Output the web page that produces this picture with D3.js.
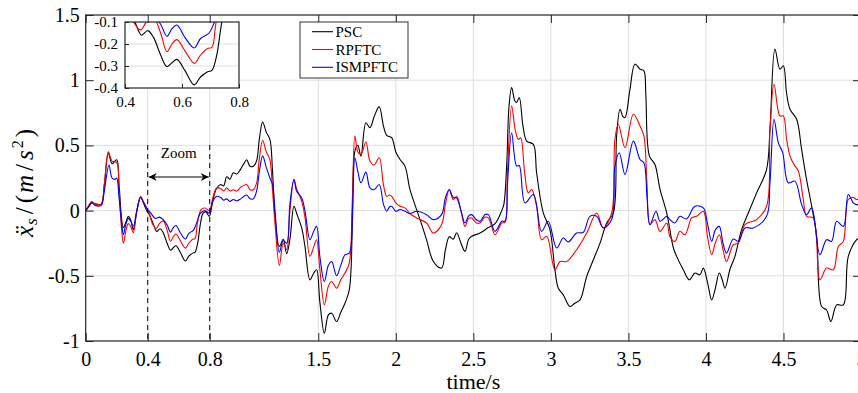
<!DOCTYPE html>
<html>
<head>
<meta charset="utf-8">
<script src="https://cdn.jsdelivr.net/npm/d3@7"></script>
<style>
html,body{margin:0;padding:0;background:#fff;}
svg{display:block;}
</style>
</head>
<body>
<svg id="chart" width="858" height="393"></svg>
<script>
// ---------------- data ----------------
const seriesNames = ["PSC", "RPFTC", "ISMPFTC"];
const seriesColors = ["#000000", "#ff0000", "#0000ff"];

const xTicks = [0, 0.4, 0.8, 1.5, 2, 2.5, 3, 3.5, 4, 4.5, 5];
const xTickLabels = ["0", "0.4", "0.8", "1.5", "2", "2.5", "3", "3.5", "4", "4.5", "5"];
const yTicks = [-1, -0.5, 0, 0.5, 1, 1.5];
const yTickLabels = ["-1", "-0.5", "0", "0.5", "1", "1.5"];

const insetXTicks = [0.4, 0.6, 0.8];
const insetXTickLabels = ["0.4", "0.6", "0.8"];
const insetYTicks = [-0.4, -0.3, -0.2, -0.1];
const insetYTickLabels = ["-0.4", "-0.3", "-0.2", "-0.1"];

const zoomRange = [0.4, 0.8];

// [time (s), acceleration (m/s^2)]
const psc = [[0,0],[0.02,0.03],[0.04,0.06],[0.07,0.05],[0.1,0.05],[0.12,0.2],[0.146,0.44],[0.17,0.36],[0.2,0.39],[0.215,0.2],[0.243,-0.13],[0.262,-0.08],[0.275,-0.044],[0.29,-0.07],[0.307,-0.146],[0.33,0.0],[0.354,0.105],[0.375,0.05],[0.393,0.0],[0.41,-0.03],[0.435,-0.1],[0.458,-0.16],[0.48,-0.139],[0.5,-0.17],[0.525,-0.25],[0.547,-0.303],[0.565,-0.285],[0.582,-0.27],[0.61,-0.32],[0.643,-0.386],[0.665,-0.35],[0.69,-0.326],[0.705,-0.32],[0.722,-0.25],[0.74,-0.1],[0.757,-0.02],[0.775,-0.01],[0.797,-0.044],[0.82,0.08],[0.844,0.17],[0.87,0.2],[0.89,0.19],[0.909,0.26],[0.93,0.24],[0.952,0.29],[0.975,0.28],[1.0,0.32],[1.02,0.36],[1.038,0.39],[1.06,0.34],[1.081,0.34],[1.102,0.38],[1.12,0.55],[1.141,0.68],[1.165,0.6],[1.188,0.546],[1.205,0.3],[1.221,-0.05],[1.249,-0.275],[1.274,-0.22],[1.296,-0.33],[1.317,-0.22],[1.343,0.033],[1.36,-0.02],[1.393,-0.133],[1.414,-0.274],[1.446,-0.531],[1.47,-0.48],[1.489,-0.454],[1.51,-0.7],[1.539,-0.941],[1.565,-0.8],[1.586,-0.787],[1.618,-0.851],[1.645,-0.78],[1.672,-0.71],[1.7,-0.608],[1.72,-0.1],[1.736,0.456],[1.755,0.5],[1.775,0.418],[1.807,0.674],[1.833,0.636],[1.86,0.72],[1.893,0.797],[1.92,0.65],[1.941,0.577],[1.973,0.559],[2.0,0.45],[2.027,0.392],[2.059,0.341],[2.091,0.162],[2.134,0.008],[2.165,-0.1],[2.198,-0.223],[2.242,-0.39],[2.295,-0.441],[2.32,-0.3],[2.345,-0.2],[2.37,-0.22],[2.392,-0.17],[2.42,-0.25],[2.446,-0.313],[2.47,-0.22],[2.489,-0.197],[2.543,-0.172],[2.597,-0.13],[2.64,-0.1],[2.683,0.0],[2.697,0.05],[2.715,0.35],[2.73,0.8],[2.747,0.944],[2.768,0.84],[2.779,0.83],[2.796,0.867],[2.82,0.65],[2.844,0.533],[2.887,0.508],[2.908,0.29],[2.951,-0.018],[2.994,-0.146],[3.026,-0.454],[3.048,-0.595],[3.08,-0.646],[3.123,-0.736],[3.155,-0.71],[3.188,-0.685],[3.231,-0.505],[3.274,-0.377],[3.317,-0.249],[3.36,-0.095],[3.403,-0.018],[3.424,0.572],[3.446,0.777],[3.465,0.72],[3.478,0.713],[3.51,0.93],[3.542,1.123],[3.575,1.085],[3.6,1.072],[3.612,0.9],[3.635,0.42],[3.671,0.354],[3.704,0.162],[3.747,-0.018],[3.79,-0.287],[3.811,-0.351],[3.854,-0.454],[3.893,-0.531],[3.929,-0.479],[3.961,-0.492],[3.983,-0.441],[4.01,-0.55],[4.037,-0.685],[4.06,-0.6],[4.086,-0.479],[4.105,-0.53],[4.123,-0.595],[4.155,-0.45],[4.187,-0.351],[4.23,-0.146],[4.273,-0.018],[4.327,0.136],[4.391,0.315],[4.413,0.623],[4.445,1.238],[4.477,1.085],[4.499,1.11],[4.52,0.9],[4.542,0.777],[4.585,0.7],[4.617,0.469],[4.649,0.238],[4.682,0.033],[4.714,-0.197],[4.746,-0.736],[4.778,-0.762],[4.806,-0.851],[4.843,-0.723],[4.886,-0.723],[4.918,-0.351],[4.972,-0.223],[5.0,-0.2]];

const rpftc = [[0,0],[0.02,0.04],[0.038,0.07],[0.06,0.05],[0.1,0.05],[0.12,0.2],[0.146,0.45],[0.17,0.38],[0.2,0.37],[0.215,0.15],[0.232,-0.15],[0.243,-0.25],[0.26,-0.15],[0.275,-0.1],[0.29,-0.12],[0.307,-0.17],[0.33,0.0],[0.354,0.105],[0.375,0.06],[0.393,0.02],[0.41,-0.02],[0.43,-0.1],[0.455,-0.136],[0.475,-0.1],[0.5,-0.08],[0.525,-0.15],[0.547,-0.235],[0.565,-0.2],[0.582,-0.18],[0.61,-0.23],[0.643,-0.288],[0.665,-0.25],[0.69,-0.22],[0.705,-0.215],[0.72,-0.1],[0.745,0.01],[0.77,0.02],[0.797,0.0],[0.82,0.1],[0.844,0.174],[0.87,0.17],[0.89,0.15],[0.909,0.174],[0.93,0.15],[0.952,0.16],[0.975,0.15],[1.0,0.18],[1.038,0.2],[1.06,0.16],[1.081,0.16],[1.102,0.21],[1.12,0.4],[1.141,0.54],[1.165,0.45],[1.188,0.39],[1.205,0.15],[1.221,-0.1],[1.249,-0.42],[1.274,-0.25],[1.296,-0.3],[1.317,0.0],[1.343,0.238],[1.36,0.17],[1.393,0.072],[1.414,-0.05],[1.446,-0.351],[1.47,-0.28],[1.489,-0.223],[1.51,-0.45],[1.539,-0.723],[1.565,-0.58],[1.586,-0.544],[1.618,-0.595],[1.645,-0.53],[1.672,-0.479],[1.7,-0.4],[1.72,0.1],[1.736,0.572],[1.755,0.45],[1.775,0.431],[1.807,0.526],[1.833,0.38],[1.86,0.35],[1.893,0.405],[1.92,0.2],[1.941,0.11],[1.96,0.12],[1.973,0.11],[2.0,0.06],[2.027,0.033],[2.059,0.021],[2.091,-0.023],[2.134,-0.056],[2.198,-0.095],[2.242,-0.172],[2.295,-0.108],[2.32,0.05],[2.345,0.162],[2.37,0.085],[2.392,0.11],[2.42,0.0],[2.446,-0.121],[2.47,-0.06],[2.489,-0.056],[2.52,-0.095],[2.543,-0.095],[2.575,-0.05],[2.597,-0.056],[2.64,-0.185],[2.683,-0.095],[2.704,-0.09],[2.72,0.3],[2.747,0.803],[2.77,0.62],[2.79,0.546],[2.805,0.559],[2.83,0.3],[2.854,0.136],[2.876,0.162],[2.908,0.033],[2.94,-0.223],[2.973,-0.197],[3.026,-0.454],[3.059,-0.39],[3.102,-0.39],[3.166,-0.3],[3.231,-0.172],[3.295,-0.018],[3.338,-0.133],[3.392,-0.018],[3.413,0.546],[3.435,0.662],[3.478,0.482],[3.532,0.739],[3.575,0.649],[3.6,0.572],[3.62,0.2],[3.639,-0.108],[3.671,-0.069],[3.704,-0.159],[3.747,-0.095],[3.768,-0.2],[3.8,-0.236],[3.832,-0.159],[3.865,-0.185],[3.908,-0.056],[3.94,-0.044],[3.983,-0.005],[4.01,-0.2],[4.037,-0.338],[4.06,-0.25],[4.086,-0.185],[4.11,-0.3],[4.133,-0.39],[4.176,-0.262],[4.209,-0.249],[4.252,-0.107],[4.327,-0.069],[4.391,0.033],[4.413,0.623],[4.439,0.969],[4.477,0.726],[4.499,0.726],[4.52,0.55],[4.542,0.418],[4.568,0.354],[4.596,0.303],[4.628,0.085],[4.649,-0.044],[4.692,-0.056],[4.735,-0.531],[4.778,-0.441],[4.821,-0.454],[4.854,-0.274],[4.886,-0.236],[4.918,0.085],[4.95,0.1],[4.972,0.085],[5.0,0.09]];

const ismpftc = [[0,0],[0.02,0.03],[0.038,0.06],[0.06,0.04],[0.1,0.04],[0.12,0.15],[0.15,0.35],[0.17,0.25],[0.19,0.24],[0.2,0.25],[0.215,0.1],[0.232,-0.1],[0.243,-0.185],[0.26,-0.1],[0.275,-0.06],[0.29,-0.08],[0.307,-0.12],[0.33,0.0],[0.354,0.1],[0.375,0.06],[0.393,0.02],[0.42,-0.02],[0.45,-0.06],[0.475,-0.05],[0.5,-0.07],[0.525,-0.11],[0.547,-0.165],[0.565,-0.13],[0.582,-0.114],[0.61,-0.17],[0.643,-0.218],[0.665,-0.175],[0.695,-0.15],[0.714,-0.1],[0.74,-0.02],[0.77,0.0],[0.797,-0.02],[0.82,0.07],[0.844,0.11],[0.87,0.1],[0.89,0.08],[0.909,0.09],[0.93,0.07],[0.952,0.085],[0.975,0.075],[1.0,0.09],[1.038,0.12],[1.06,0.09],[1.081,0.09],[1.102,0.15],[1.12,0.3],[1.141,0.42],[1.165,0.33],[1.188,0.25],[1.205,0.2],[1.221,0.0],[1.249,-0.32],[1.274,-0.23],[1.296,-0.25],[1.317,0.05],[1.343,0.238],[1.36,0.15],[1.393,0.097],[1.414,0.0],[1.446,-0.223],[1.47,-0.16],[1.489,-0.121],[1.51,-0.35],[1.539,-0.544],[1.565,-0.42],[1.586,-0.39],[1.618,-0.5],[1.645,-0.42],[1.672,-0.34],[1.7,-0.326],[1.72,0.0],[1.736,0.405],[1.755,0.3],[1.775,0.213],[1.807,0.295],[1.833,0.174],[1.86,0.16],[1.893,0.2],[1.92,0.05],[1.941,-0.005],[1.96,0.03],[1.973,0.033],[2.0,-0.005],[2.027,0.008],[2.059,-0.005],[2.091,-0.023],[2.134,-0.005],[2.198,-0.031],[2.242,-0.069],[2.295,-0.031],[2.32,0.1],[2.345,0.162],[2.37,0.1],[2.392,0.097],[2.42,0.0],[2.446,-0.095],[2.47,-0.04],[2.489,-0.031],[2.52,-0.07],[2.543,-0.082],[2.575,-0.03],[2.597,-0.031],[2.64,-0.159],[2.683,-0.082],[2.704,-0.08],[2.72,0.2],[2.747,0.597],[2.779,0.341],[2.796,0.346],[2.833,0.059],[2.887,0.123],[2.94,-0.159],[2.983,-0.082],[3.037,-0.287],[3.08,-0.21],[3.112,-0.241],[3.166,-0.172],[3.209,-0.167],[3.252,-0.044],[3.295,-0.044],[3.338,-0.133],[3.392,-0.069],[3.413,0.341],[3.441,0.444],[3.478,0.277],[3.532,0.533],[3.575,0.392],[3.6,0.367],[3.62,0.1],[3.639,-0.108],[3.678,-0.005],[3.704,-0.082],[3.747,-0.044],[3.768,-0.069],[3.8,-0.095],[3.832,-0.044],[3.875,-0.064],[3.929,0.033],[3.983,0.021],[4.01,-0.1],[4.037,-0.236],[4.06,-0.15],[4.086,-0.121],[4.11,-0.25],[4.133,-0.326],[4.176,-0.218],[4.209,-0.236],[4.252,-0.133],[4.305,-0.133],[4.391,-0.044],[4.413,0.213],[4.439,0.7],[4.467,0.52],[4.495,0.444],[4.531,0.213],[4.574,0.226],[4.617,0.046],[4.649,-0.031],[4.682,0.021],[4.735,-0.338],[4.778,-0.223],[4.81,-0.236],[4.843,-0.082],[4.886,-0.121],[4.918,0.123],[4.95,0.06],[4.972,0.046],[5.0,0.05]];

const seriesData = [psc, rpftc, ismpftc];

// ---------------- layout ----------------
const FONT = "Liberation Serif";
const svg = d3.select("#chart").attr("font-family", FONT);
const W = 858, H = 393;
const plot = {left: 85.7, right: 861, top: 15, bottom: 341};
const inset = {left: 125, right: 239, top: 22, bottom: 88};
const axisColor = "#262626";
const gridColor = "#dedede";

svg.append("rect").attr("width", W).attr("height", H).attr("fill", "#fff");

const x = d3.scaleLinear().domain([0, 5]).range([plot.left, plot.right]);
const y = d3.scaleLinear().domain([-1, 1.5]).range([plot.bottom, plot.top]);

const defs = svg.append("defs");
defs.append("clipPath").attr("id", "clipMain").append("rect")
  .attr("x", plot.left).attr("y", plot.top)
  .attr("width", plot.right - plot.left).attr("height", plot.bottom - plot.top);
defs.append("clipPath").attr("id", "clipInset").append("rect")
  .attr("x", inset.left).attr("y", inset.top)
  .attr("width", inset.right - inset.left).attr("height", inset.bottom - inset.top);

// grid
const grid = svg.append("g");
grid.selectAll("line.gx").data(xTicks.filter(d => d > 0 && d < 5)).join("line")
  .attr("x1", d => x(d)).attr("x2", d => x(d))
  .attr("y1", plot.top).attr("y2", plot.bottom)
  .attr("stroke", gridColor).attr("stroke-width", 1);
grid.selectAll("line.gy").data(yTicks.filter(d => d > -1 && d < 1.5)).join("line")
  .attr("x1", plot.left).attr("x2", plot.right)
  .attr("y1", d => y(d)).attr("y2", d => y(d))
  .attr("stroke", gridColor).attr("stroke-width", 1);

// curves
const line = d3.line().x(d => x(d[0])).y(d => y(d[1])).curve(d3.curveCatmullRom.alpha(0.5));
const curves = svg.append("g").attr("clip-path", "url(#clipMain)");
seriesData.forEach((s, i) => {
  curves.append("path").datum(s).attr("d", line)
    .attr("fill", "none").attr("stroke", seriesColors[i]).attr("stroke-width", 1.1);
});

// zoom annotation
const ann = svg.append("g");
zoomRange.forEach(v => {
  ann.append("line").attr("x1", x(v)).attr("x2", x(v))
    .attr("y1", 145).attr("y2", plot.bottom)
    .attr("stroke", "#000").attr("stroke-width", 1).attr("stroke-dasharray", "5,4");
});
defs.append("marker").attr("id", "arrowHead").attr("viewBox", "0 0 10 10")
  .attr("refX", 10).attr("refY", 5).attr("markerWidth", 10).attr("markerHeight", 8)
  .attr("markerUnits", "userSpaceOnUse").attr("orient", "auto-start-reverse")
  .append("path").attr("d", "M0,0 L10,5 L0,10 L3,5 Z").attr("fill", "#000");
ann.append("line").attr("x1", x(zoomRange[0]) + 1).attr("x2", x(zoomRange[1]) - 1)
  .attr("y1", 177).attr("y2", 177).attr("stroke", "#000").attr("stroke-width", 1.2)
  .attr("marker-start", "url(#arrowHead)").attr("marker-end", "url(#arrowHead)");
ann.append("text").attr("x", (x(zoomRange[0]) + x(zoomRange[1])) / 2).attr("y", 158)
  .attr("text-anchor", "middle").attr("font-size", 15).text("Zoom");

// ---------------- inset ----------------
const xi = d3.scaleLinear().domain(zoomRange).range([inset.left, inset.right]);
const yi = d3.scaleLinear().domain([-0.4, -0.1]).range([inset.bottom, inset.top]);
const ig = svg.append("g");
ig.append("rect").attr("x", plot.left + 0.5).attr("y", plot.top + 0.5)
  .attr("width", inset.right - plot.left).attr("height", inset.bottom - plot.top)
  .attr("fill", "#fff");
ig.selectAll("line.igx").data(insetXTicks.slice(1, -1)).join("line")
  .attr("x1", d => xi(d)).attr("x2", d => xi(d)).attr("y1", inset.top).attr("y2", inset.bottom)
  .attr("stroke", gridColor);
ig.selectAll("line.igy").data(insetYTicks.slice(1, -1)).join("line")
  .attr("x1", inset.left).attr("x2", inset.right).attr("y1", d => yi(d)).attr("y2", d => yi(d))
  .attr("stroke", gridColor);
const lineI = d3.line().x(d => xi(d[0])).y(d => yi(d[1])).curve(d3.curveCatmullRom.alpha(0.5));
const ic = ig.append("g").attr("clip-path", "url(#clipInset)");
seriesData.forEach((s, i) => {
  ic.append("path").datum(s.filter(d => d[0] >= 0.3 && d[0] <= 0.9)).attr("d", lineI)
    .attr("fill", "none").attr("stroke", seriesColors[i]).attr("stroke-width", 1.1);
});
const iax = ig.append("g").attr("transform", `translate(0,${inset.bottom})`)
  .call(d3.axisBottom(xi).tickValues(insetXTicks).tickFormat((d, i) => insetXTickLabels[i])
    .tickSizeInner(-4).tickSizeOuter(0).tickPadding(8));
const iay = ig.append("g").attr("transform", `translate(${inset.left},0)`)
  .call(d3.axisLeft(yi).tickValues(insetYTicks).tickFormat((d, i) => insetYTickLabels[i])
    .tickSizeInner(-4).tickSizeOuter(0).tickPadding(7));
[iax, iay].forEach(g => {
  g.attr("font-family", FONT).attr("font-size", 15);
  g.select(".domain").remove();
  g.selectAll("line").attr("stroke", axisColor);
  g.selectAll("text").attr("fill", "#000");
});
ig.append("rect").attr("x", inset.left).attr("y", inset.top)
  .attr("width", inset.right - inset.left).attr("height", inset.bottom - inset.top)
  .attr("fill", "none").attr("stroke", axisColor).attr("stroke-width", 1.2);

// ---------------- main axes ----------------
const axB = svg.append("g").attr("transform", `translate(0,${plot.bottom})`)
  .call(d3.axisBottom(x).tickValues(xTicks).tickFormat((d, i) => xTickLabels[i])
    .tickSizeInner(-8).tickSizeOuter(0).tickPadding(11));
const axT = svg.append("g").attr("transform", `translate(0,${plot.top})`)
  .call(d3.axisTop(x).tickValues(xTicks).tickFormat("").tickSizeInner(-8).tickSizeOuter(0));
const axL = svg.append("g").attr("transform", `translate(${plot.left},0)`)
  .call(d3.axisLeft(y).tickValues(yTicks).tickFormat((d, i) => yTickLabels[i])
    .tickSizeInner(-8).tickSizeOuter(0).tickPadding(6));
const axR = svg.append("g").attr("transform", `translate(${plot.right},0)`)
  .call(d3.axisRight(y).tickValues(yTicks).tickFormat("").tickSizeInner(-8).tickSizeOuter(0));
[axB, axT, axL, axR].forEach(g => {
  g.attr("font-family", FONT).attr("font-size", 20);
  g.select(".domain").remove();
  g.selectAll("line").attr("stroke", axisColor);
  g.selectAll("text").attr("fill", "#000");
});
svg.append("rect").attr("x", plot.left).attr("y", plot.top)
  .attr("width", plot.right - plot.left).attr("height", plot.bottom - plot.top)
  .attr("fill", "none").attr("stroke", axisColor).attr("stroke-width", 1.2);

// axis labels
svg.append("text").attr("x", (plot.left + plot.right) / 2).attr("y", 389)
  .attr("text-anchor", "middle").attr("font-size", 22).text("time/s");

const yl = svg.append("text")
  .attr("transform", "translate(33,183) rotate(-90)")
  .attr("text-anchor", "middle").attr("font-size", 25);
yl.append("tspan").attr("font-style", "italic").text("\u1E8D");
yl.append("tspan").attr("font-style", "italic").attr("font-size", 17).attr("dy", 4).attr("dx", 1).text("s");
yl.append("tspan").attr("dy", -4).attr("dx", 4).text("/");
yl.append("tspan").attr("dx", 4).text("(");
yl.append("tspan").attr("font-style", "italic").attr("dx", 2).text("m");
yl.append("tspan").attr("dx", 4).text("/");
yl.append("tspan").attr("font-style", "italic").attr("dx", 4).text("s");
yl.append("tspan").attr("font-size", 16).attr("dy", -10).attr("dx", 2).text("2");
yl.append("tspan").attr("dy", 10).attr("dx", 3).text(")");

// ---------------- legend ----------------
const lg = svg.append("g");
lg.append("rect").attr("x", 300).attr("y", 22).attr("width", 108).attr("height", 56)
  .attr("fill", "#fff").attr("stroke", "#333").attr("stroke-width", 1);
seriesNames.forEach((name, i) => {
  const yy = 31.7 + i * 17.8;
  lg.append("line").attr("x1", 312).attr("x2", 333).attr("y1", yy).attr("y2", yy)
    .attr("stroke", seriesColors[i]).attr("stroke-width", 1.1);
  lg.append("text").attr("x", 335.5).attr("y", yy + 5).attr("font-size", 15).text(name);
});
</script>
</body>
</html>
